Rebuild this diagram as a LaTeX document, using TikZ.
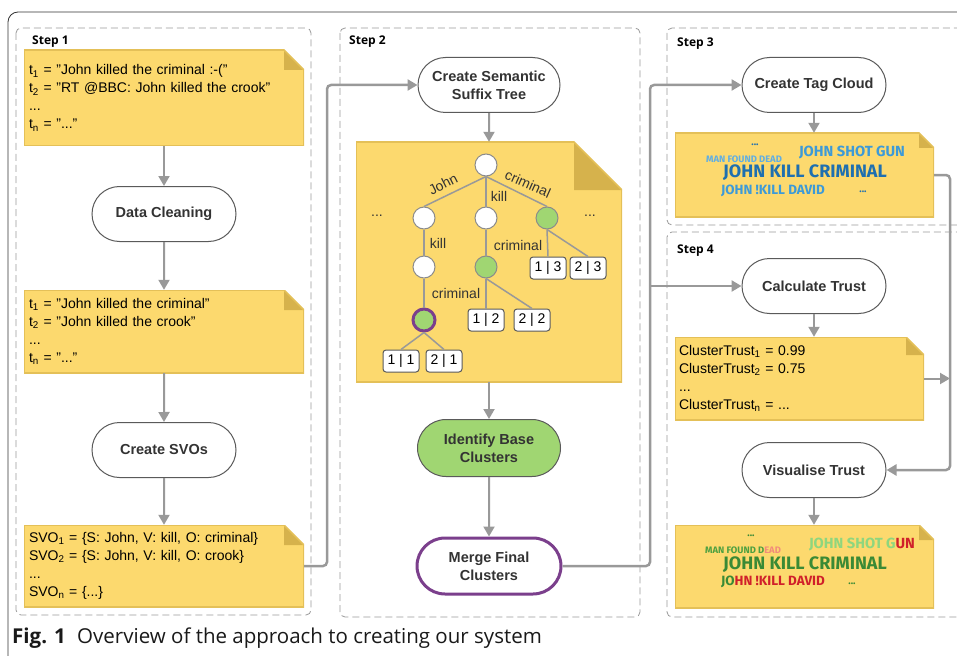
\documentclass[tikz,border=0pt]{standalone}
\usepackage{fontspec}
\setmainfont{Liberation Sans}
\newfontfamily\capfont{Open Sans}
\newfontfamily\cloudfont{Fira Sans}
\usetikzlibrary{arrows.meta}
\usetikzlibrary{shapes.misc,positioning}

\definecolor{notefill}{RGB}{252,217,110}
\definecolor{noteline}{RGB}{228,192,88}
\definecolor{notefold}{RGB}{214,178,76}
\definecolor{flowgray}{RGB}{153,153,153}
\definecolor{procline}{RGB}{90,90,90}
\definecolor{ink}{RGB}{51,51,51}
\definecolor{leafgreen}{RGB}{160,214,114}
\definecolor{mergepurple}{RGB}{123,63,140}
\definecolor{blueA}{RGB}{95,174,227}
\definecolor{blueB}{RGB}{60,154,216}
\definecolor{blueC}{RGB}{30,111,176}
\definecolor{greenA}{RGB}{77,160,64}
\definecolor{greenB}{RGB}{142,214,126}
\definecolor{greenC}{RGB}{58,138,53}
\definecolor{redA}{RGB}{208,32,42}
\definecolor{salmon}{RGB}{242,139,123}

\tikzset{
  fold/.store in=\foldsize, fold=20pt,
  note/.style={rectangle, fill=notefill, inner sep=0pt, inner xsep=5pt, align=left,
    font=\fontsize{14}{18}\selectfont, text=black,
    path picture={
      \fill[white] ([xshift=-\foldsize]path picture bounding box.north east) -- (path picture bounding box.north east) -- ([yshift=-\foldsize]path picture bounding box.north east) -- cycle;
      \fill[notefold] ([xshift=-\foldsize]path picture bounding box.north east) -- ([shift={(-\foldsize,-\foldsize)}]path picture bounding box.north east) -- ([yshift=-\foldsize]path picture bounding box.north east) -- cycle;
      \draw[noteline, line width=1.6pt] (path picture bounding box.north west) -- ([xshift=-\foldsize]path picture bounding box.north east) -- ([yshift=-\foldsize]path picture bounding box.north east) -- (path picture bounding box.south east) -- (path picture bounding box.south west) -- cycle;
    }},
  proc/.style={rounded rectangle, draw=procline, line width=1pt, fill=white,
    minimum width=148pt, minimum height=55pt, inner sep=2pt, align=center,
    text=ink, font=\fontsize{14.5}{18}\selectfont\bfseries},
  flow/.style={draw=flowgray, line width=2pt, -{Triangle[length=10pt,width=11pt]}, rounded corners=4pt},
  panel/.style={draw=flowgray, dash pattern=on 7pt off 4pt, line width=0.8pt, rounded corners=5pt},
  steplabel/.style={anchor=west, inner sep=0pt, font=\capfont\bfseries\fontsize{12}{12}\selectfont},
  tn/.style={circle, draw=procline!70, line width=1pt, fill=white, minimum size=22pt, inner sep=0pt},
  tg/.style={tn, fill=leafgreen},
  leaf/.style={rectangle, rounded corners=3pt, draw=procline, line width=1pt, fill=white,
    minimum width=36pt, minimum height=22pt, inner sep=1pt, font=\fontsize{14}{14}\selectfont},
  tedge/.style={draw=flowgray, line width=1.5pt},
  tlabel/.style={inner sep=0pt, text=ink, font=\fontsize{14}{14}\selectfont},
  cloud/.style={inner sep=0pt, font=\cloudfont\bfseries\fontsize{#1}{#1}\selectfont},
}

\begin{document}
\begin{tikzpicture}[x=1pt,y=-1pt]
\useasboundingbox (0,0) rectangle (957,655);
% frame and step panels
\draw[ink, line width=0.8pt, rounded corners=10pt] (8,665) -- (8,12) -- (965,12);
\draw[panel] (16,28) rectangle (311,615);
\draw[panel] (340,28) rectangle (640,617);
\draw[panel] (667,28) rectangle (975,225);
\draw[panel] (667,232) rectangle (975,617);
\node[steplabel] (s1) at (32,42) {Step 1};
\node[steplabel] (s2) at (349,42) {Step 2};
\node[steplabel] (s3) at (677,44) {Step 3};
\node[steplabel] (s4) at (677,251) {Step 4};

% step 1
\node[note, minimum width=280pt, minimum height=96pt, text width=270pt] (tweets) at (164,98)
  {t\textsubscript{1} = "John killed the criminal :-("\\t\textsubscript{2} = "RT @BBC: John killed the crook"\\...\\t\textsubscript{n} = "..."};
\node[proc] (clean) at (164,214) {Data Cleaning};
\node[note, minimum width=280pt, minimum height=83pt, text width=270pt] (cleaned) at (164,331.5)
  {t\textsubscript{1} = "John killed the criminal"\\t\textsubscript{2} = "John killed the crook"\\...\\t\textsubscript{n} = "..."};
\node[proc] (mksvo) at (164,450) {Create SVOs};
\node[note, minimum width=280pt, minimum height=82pt, text width=270pt] (svos) at (164,566)
  {SVO\textsubscript{1} = \{S: John, V: kill, O: criminal\}\\SVO\textsubscript{2} = \{S: John, V: kill, O: crook\}\\...\\SVO\textsubscript{n} = \{...\}};

% step 2
\node[proc, minimum width=146pt] (mktree) at (489,85) {Create Semantic\\Suffix Tree};
\node[note, fold=48pt, minimum width=266pt, minimum height=240pt] (sst) at (489,262) {};
\node[tn] (root) at (486,165) {};
\node[tn] (k1) at (424,218) {};
\node[tn] (k2) at (486,218) {};
\node[tg] (k3) at (547,218) {};
\node[tn] (k4) at (424,267) {};
\node[tg] (k5) at (486,267) {};
\node[tg, draw=mergepurple, line width=3pt] (k6) at (424,320) {};
\node[leaf] (b13) at (548,268) {1 | 3};
\node[leaf] (b23) at (588,268) {2 | 3};
\node[leaf] (b12) at (486,320) {1 | 2};
\node[leaf] (b22) at (532,320) {2 | 2};
\node[leaf] (b11) at (401,361) {1 | 1};
\node[leaf] (b21) at (444,361) {2 | 1};
\node[tlabel] (dl) at (377,216) {...};
\node[tlabel] (dr) at (590,216) {...};
\node[tlabel, rotate=27] (lj) at (443,184) {John};
\node[tlabel, rotate=-24] (lc) at (528,184) {criminal};
\node[tlabel] (lk) at (499,196) {kill};
\node[tlabel] (lk2) at (438,243) {kill};
\node[tlabel] (lc2) at (518,245) {criminal};
\node[tlabel] (lc3) at (456,293) {criminal};
\path
(root.south) edge[tedge] (k1.north)
(root.south) edge[tedge] (k2.north)
(root.south) edge[tedge] (k3.north)
(k1) edge[tedge] (k4)
(k4) edge[tedge] (k6)
(k2) edge[tedge] (k5)
(k3.south) edge[tedge] (b13.north)
(k3.south) edge[tedge] (b23.north)
(k5.south) edge[tedge] (b12.north)
(k5.south) edge[tedge] (b22.north)
(k6.south) edge[tedge] (b11.north)
(k6.south) edge[tedge] (b21.north);
\node[proc, fill=leafgreen, minimum width=147pt, minimum height=57pt] (base) at (489,448) {Identify Base\\Clusters};
\node[proc, draw=mergepurple, line width=3pt, minimum width=148pt, minimum height=56pt] (merge) at (489,566) {Merge Final\\Clusters};

% step 3
\node[proc] (mkcloud) at (814,85) {Create Tag Cloud};
\node[note, fold=15pt, minimum width=259pt, minimum height=84pt] (cloudA) at (804.5,175) {};
\node[cloud=10, text=blueC] (dotA1) at (755,145) {...};
\node[cloud=9.4, text=blueA] (manA) at (744,159) {MAN FOUND DEAD};
\node[cloud=14.7, text=blueB] (shotA) at (852,153) {JOHN SHOT GUN};
\node[cloud=18, text=blueC] (killA) at (805,173) {JOHN KILL CRIMINAL};
\node[cloud=13.4, text=blueB] (davidA) at (773,191) {JOHN !KILL DAVID};
\node[cloud=10, text=blueC] (dotA2) at (863,192) {...};

% step 4
\node[proc] (calc) at (814,286) {Calculate Trust};
\node[note, fold=18pt, minimum width=249pt, minimum height=83pt, text width=241pt, inner xsep=4pt] (trust) at (799.5,378.5)
  {ClusterTrust\textsubscript{1} = 0.99\\ClusterTrust\textsubscript{2} = 0.75\\...\\ClusterTrust\textsubscript{n} = ...};
\node[proc] (vis) at (814,470) {Visualise Trust};
\node[note, fold=15pt, minimum width=259pt, minimum height=83pt] (cloudB) at (804.5,566.5) {};
\node[cloud=10, text=greenC] (dotB1) at (751,536) {...};
\node[cloud=9.4] (manB) at (743,550) {\textcolor{greenA}{MAN FOUND D}\textcolor{salmon}{EAD}};
\node[cloud=14.7] (shotB) at (862,545) {\textcolor{greenB}{JOHN SHOT G}\textcolor{redA}{UN}};
\node[cloud=18, text=greenC] (killB) at (805,565) {JOHN KILL CRIMINAL};
\node[cloud=13.4] (davidB) at (773,582) {\textcolor{greenC}{JO}\textcolor{redA}{HN !KILL DAVID}};
\node[cloud=10, text=greenC] (dotB2) at (852,584) {...};

% connectors
\coordinate (busA) at (327,0);
\coordinate (busB) at (650,0);
\coordinate (busC) at (950,0);
\path
(tweets) edge[flow] (clean)
(clean) edge[flow] (cleaned)
(cleaned) edge[flow] (mksvo)
(mksvo) edge[flow] (svos)
(mktree) edge[flow] (sst)
(sst) edge[flow] (base)
(base) edge[flow] (merge)
(mkcloud.south) edge[flow] (mkcloud.south |- cloudA.north)
(calc.south) edge[flow] (calc.south |- trust.north)
(vis.south) edge[flow] (vis.south |- cloudB.north);
\draw[flow, line width=2.5pt] (svos.east) -- (svos.east -| busA) |- (mktree.west);
\draw[flow, line width=2.5pt] (merge.east) -- (merge.east -| busB) |- (mkcloud.west);
\draw[flow, line width=2.5pt] (busB |- calc.west) -- (calc.west);
\draw[flow, line width=2.5pt] (cloudA.east) -- (cloudA.east -| busC) |- (vis.east);
\draw[flow] (trust.east) -- (trust.east -| busC);

% caption
\node[anchor=base west, inner sep=0pt, text=black!90, font=\capfont\fontsize{20.5}{20.5}\selectfont] (caption) at (12,643)
  {\textbf{Fig. 1}\hspace{0.55em}Overview of the approach to creating our system};
\end{tikzpicture}
\end{document}
